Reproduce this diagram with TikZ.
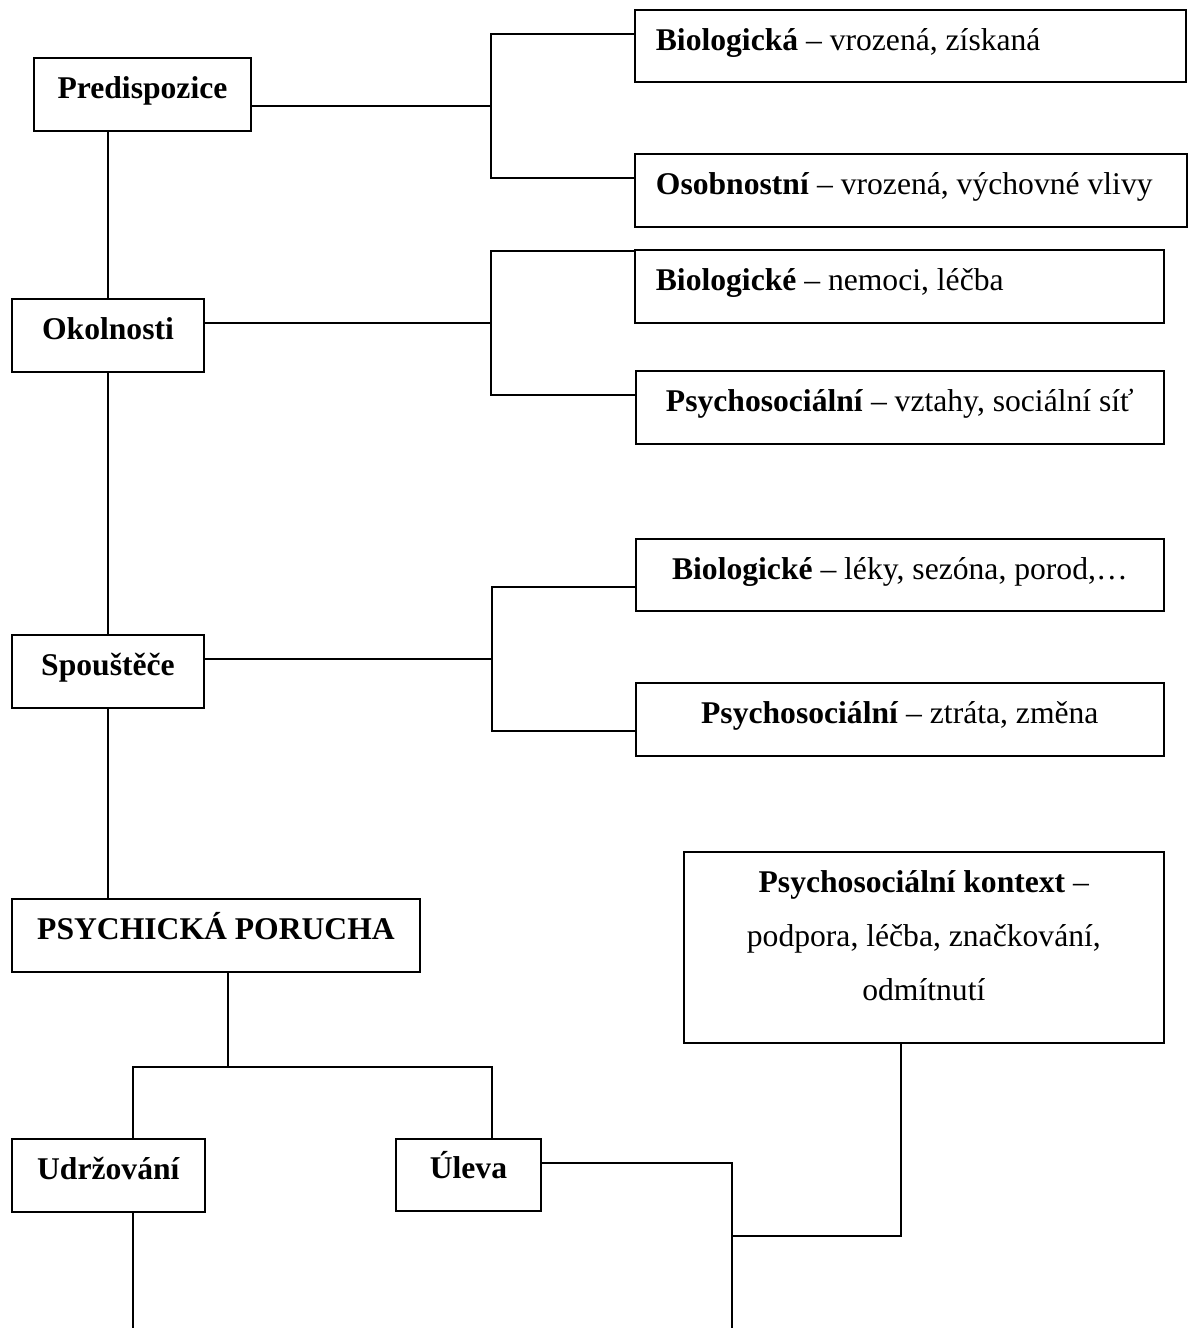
\documentclass[tikz,border=0pt]{standalone}
\usepackage{fontspec}
\setmainfont{Liberation Serif}
\tikzset{
  frame/.style={draw, line width=0.75pt, inner sep=0pt,
    font=\fontsize{12pt}{14.5pt}\selectfont},
  box/.style={frame, minimum height=0.97cm, text height=9pt, text depth=6pt},
  lbox/.style={box, align=flush left, inner xsep=0.28cm, text width=#1},
  kbox/.style={frame, align=center},
  link/.style={line width=0.75pt},
}

\begin{document}
\begin{tikzpicture}
\useasboundingbox (0,0) rectangle (15.84,17.71);

% levy sloupec
\node[box, minimum width=2.893cm] (predisp) at (1.9,16.453) {\textbf{Predispozice}};
\node[box, minimum width=2.56cm] (okoln) at (1.44,13.233) {\textbf{Okolnosti}};
\node[box, minimum width=2.56cm] (spoust) at (1.44,8.753) {\textbf{Spouštěče}};
\node[box, minimum width=5.44cm] (porucha) at (2.88,5.233) {\textbf{PSYCHICKÁ PORUCHA}};
\node[box, minimum width=2.573cm] (udrz) at (1.447,2.033) {\textbf{Udržování}};
\node[box, minimum width=1.933cm, minimum height=0.96cm] (uleva) at (6.247,2.04) {\textbf{Úleva}};

% pravy sloupec
\node[lbox=6.787cm, minimum height=0.96cm] (biolA) at (12.14,17.093) {\textbf{Biologická} -- vrozená, získaná};
\node[lbox=6.8cm] (osobn) at (12.147,15.167) {\textbf{Osobnostní} -- vrozená, výchovné vlivy};
\node[lbox=6.493cm] (biolB) at (11.993,13.887) {\textbf{Biologické} -- nemoci, léčba};
\node[box, minimum width=7.04cm] (psysocA) at (12,12.273) {\textbf{Psychosociální} -- vztahy, sociální síť};
\node[box, minimum width=7.04cm, minimum height=0.96cm] (biolC) at (12,10.04) {\textbf{Biologické} -- léky, sezóna, porod,…};
\node[box, minimum width=7.04cm] (psysocB) at (12,8.113) {\textbf{Psychosociální} -- ztráta, změna};
\node[kbox, minimum width=6.4cm, minimum height=2.547cm] (kontext) at (12.32,5.073)
  {\textbf{Psychosociální kontext} --\\[6pt] podpora, léčba, značkování,\\[6pt] odmítnutí\\[-5.4pt]\mbox{}};

% odbocky
\coordinate (jPred) at (6.547,16.293);
\coordinate (jPredT) at (6.547,17.253);
\coordinate (jPredB) at (6.547,15.333);
\coordinate (jOkol) at (6.547,13.4);
\coordinate (jOkolT) at (6.547,14.36);
\coordinate (jOkolB) at (6.547,12.44);
\coordinate (jSpou) at (6.56,8.92);
\coordinate (jSpouT) at (6.56,9.88);
\coordinate (jSpouB) at (6.56,7.96);
\coordinate (jPor) at (3.04,3.48);
\coordinate (jPorL) at (1.773,3.48);
\coordinate (jPorR) at (6.56,3.48);
\coordinate (jUlev) at (9.76,2.2);
\coordinate (jKont) at (12.013,1.227);
\coordinate (endU) at (1.773,0);
\coordinate (endR) at (9.76,0);

\draw[link] (predisp.east |- jPred) -- (jPred);
\draw[link] (biolA.west |- jPredT) -- (jPredT) -- (jPredB) -- (osobn.west |- jPredB);
\draw[link] (okoln.east |- jOkol) -- (jOkol);
\draw[link] (biolB.west |- jOkolT) -- (jOkolT) -- (jOkolB) -- (psysocA.west |- jOkolB);
\draw[link] (spoust.east |- jSpou) -- (jSpou);
\draw[link] (biolC.west |- jSpouT) -- (jSpouT) -- (jSpouB) -- (psysocB.west |- jSpouB);

\draw[link] (okoln.north) -- (okoln.north |- predisp.south);
\draw[link] (spoust.north) -- (okoln.south);
\draw[link] (spoust.south) -- (spoust.south |- porucha.north);
\draw[link] (jPor |- porucha.south) -- (jPor);
\draw[link] (jPorL |- udrz.north) -- (jPorL) -- (jPorR) -- (jPorR |- uleva.north);
\draw[link] (endU |- udrz.south) -- (endU);

\draw[link] (uleva.east |- jUlev) -- (jUlev) -- (endR);
\draw[link] (jKont |- kontext.south) -- (jKont) -- (jKont -| jUlev);
\end{tikzpicture}
\end{document}
